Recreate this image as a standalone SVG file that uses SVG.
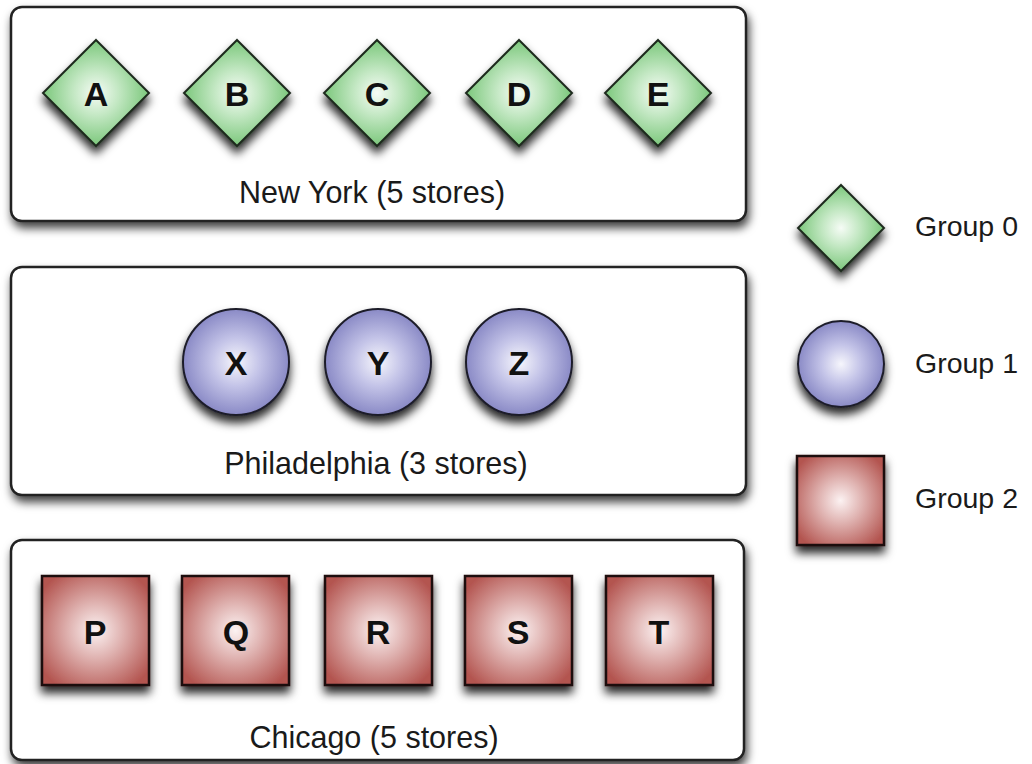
<svg xmlns="http://www.w3.org/2000/svg" width="1032" height="764" viewBox="0 0 1032 764">
<defs>
<radialGradient id="gG" cx="50%" cy="50%" r="60%">
<stop offset="0" stop-color="#f6fcf6"/><stop offset="0.35" stop-color="#c4e8c4"/><stop offset="1" stop-color="#62bc62"/>
</radialGradient>
<radialGradient id="gB" cx="50%" cy="50%" r="50%">
<stop offset="0" stop-color="#f6f6fc"/><stop offset="0.45" stop-color="#c4c4e8"/><stop offset="1" stop-color="#8a8ac6"/>
</radialGradient>
<radialGradient id="gR" cx="50%" cy="50%" r="62%">
<stop offset="0" stop-color="#fcf2f2"/><stop offset="0.4" stop-color="#e0b4b2"/><stop offset="1" stop-color="#b3544f"/>
</radialGradient>
<filter id="sh" x="-30%" y="-30%" width="160%" height="175%">
<feDropShadow dx="0" dy="7" stdDeviation="5" flood-color="#000" flood-opacity="0.85"/>
</filter>
<filter id="bsh" x="-5%" y="-10%" width="112%" height="130%">
<feDropShadow dx="2" dy="6" stdDeviation="5" flood-color="#000" flood-opacity="0.75"/>
</filter>
<style>
.box{fill:#fff;stroke:#222;stroke-width:2.5;filter:url(#bsh)}
.dia{fill:url(#gG);stroke:#1e2a1e;stroke-width:2;filter:url(#sh)}
.cir{fill:url(#gB);stroke:#1e1e2a;stroke-width:2;filter:url(#sh)}
.sq{fill:url(#gR);stroke:#1a1010;stroke-width:2.5;filter:url(#sh)}
.lbl{font-family:"Liberation Sans",Arial,sans-serif;font-weight:bold;font-size:34px;fill:#111;text-anchor:middle}
.cap{font-family:"Liberation Sans",Arial,sans-serif;font-size:30.5px;fill:#1a1a1a;text-anchor:middle}
.leg{font-family:"Liberation Sans",Arial,sans-serif;font-size:28.5px;fill:#1a1a1a}
</style>
</defs>
<rect width="1032" height="764" fill="#fff"/>
<g id="newyork">
<rect class="box" x="11" y="7" width="735" height="214" rx="11"/>
<text class="cap" x="372" y="203">New York (5 stores)</text>
</g>
<g id="philadelphia">
<rect class="box" x="11" y="267" width="735" height="228" rx="11"/>
<text class="cap" x="376" y="474">Philadelphia (3 stores)</text>
</g>
<g id="chicago">
<rect class="box" x="11" y="540" width="733" height="220" rx="11"/>
<text class="cap" x="374" y="748">Chicago (5 stores)</text>
</g>
<g id="node-A"><polygon class="dia" points="96,40 149,93 96,146 43,93"/><text class="lbl" x="96" y="106">A</text></g>
<g id="node-B"><polygon class="dia" points="237,40 290,93 237,146 184,93"/><text class="lbl" x="237" y="106">B</text></g>
<g id="node-C"><polygon class="dia" points="377,40 430,93 377,146 324,93"/><text class="lbl" x="377" y="106">C</text></g>
<g id="node-D"><polygon class="dia" points="519,40 572,93 519,146 466,93"/><text class="lbl" x="519" y="106">D</text></g>
<g id="node-E"><polygon class="dia" points="658,40 711,93 658,146 605,93"/><text class="lbl" x="658" y="106">E</text></g>
<g id="node-X"><circle class="cir" cx="236" cy="362" r="53"/><text class="lbl" x="236" y="375">X</text></g>
<g id="node-Y"><circle class="cir" cx="378" cy="362" r="53"/><text class="lbl" x="378" y="375">Y</text></g>
<g id="node-Z"><circle class="cir" cx="519" cy="362" r="53"/><text class="lbl" x="519" y="375">Z</text></g>
<g id="node-P"><rect class="sq" x="42" y="576" width="107" height="109"/><text class="lbl" x="95" y="644">P</text></g>
<g id="node-Q"><rect class="sq" x="182" y="576" width="107" height="109"/><text class="lbl" x="236" y="644">Q</text></g>
<g id="node-R"><rect class="sq" x="325" y="576" width="107" height="109"/><text class="lbl" x="378" y="644">R</text></g>
<g id="node-S"><rect class="sq" x="465" y="576" width="107" height="109"/><text class="lbl" x="518" y="644">S</text></g>
<g id="node-T"><rect class="sq" x="606" y="576" width="107" height="109"/><text class="lbl" x="659" y="644">T</text></g>
<g id="legend-0"><polygon class="dia" points="841,185 884,228 841,271 798,228"/><text class="leg" x="915" y="236">Group 0</text></g>
<g id="legend-1"><circle class="cir" cx="841" cy="364" r="43"/><text class="leg" x="915" y="373">Group 1</text></g>
<g id="legend-2"><rect class="sq" x="797" y="456" width="87" height="89"/><text class="leg" x="915" y="508">Group 2</text></g>
<g id="connectors"/>
</svg>
